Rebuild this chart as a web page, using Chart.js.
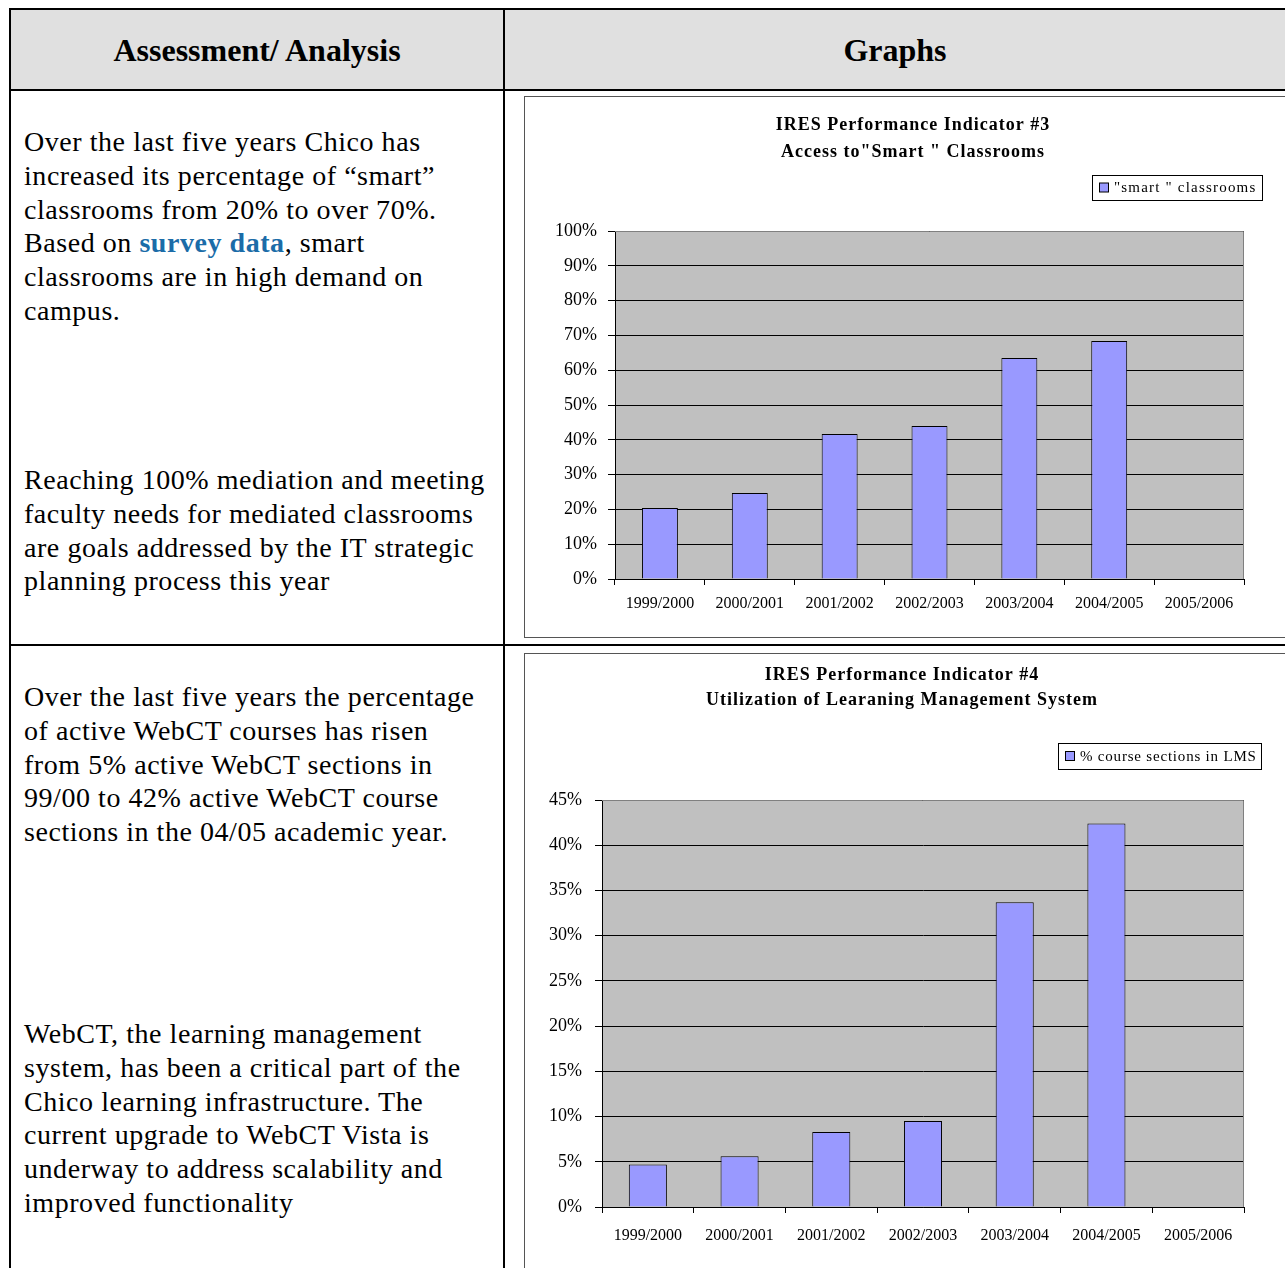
<!DOCTYPE html>
<html>
<head>
<meta charset="utf-8">
<script src="https://cdn.jsdelivr.net/npm/chart.js@4"></script>
<style>
  html, body { margin: 0; padding: 0; background: #fff; }
  body { width: 1285px; height: 1268px; overflow: hidden; position: relative;
         font-family: "Liberation Serif", "Times New Roman", serif; color: #000; }
  .line { position: absolute; background: #000; }
  .head { position: absolute; top: 10px; height: 79px; line-height: 81px; text-align: center;
          font-weight: bold; font-size: 32px; background: #e0e0e0; }
  .txt { position: absolute; left: 24px; font-size: 28px; line-height: 33.8px; letter-spacing: 0.55px; white-space: nowrap; }
  .txt b { color: #1b6ca8; }
  .box { position: absolute; left: 524px; width: 800px; border: 1px solid #555; box-sizing: border-box; }
  .chartWrap { position: absolute; left: 525px; width: 760px; }
</style>
</head>
<body>
<div class="head" style="left:11px;width:492px;">Assessment/ Analysis</div>
<div class="head" style="left:505px;width:780px;">Graphs</div>

<div class="line" style="left:9px;top:8px;width:1276px;height:2px;"></div>
<div class="line" style="left:9px;top:8px;width:2px;height:1260px;"></div>
<div class="line" style="left:503px;top:8px;width:2px;height:1260px;"></div>
<div class="line" style="left:9px;top:89px;width:1276px;height:2px;"></div>
<div class="line" style="left:9px;top:644px;width:1276px;height:2px;"></div>

<div class="txt" style="top:125px;">Over the last five years Chico has<br>increased its percentage of “smart”<br>classrooms from 20% to over 70%.<br>Based on <b>survey data</b>, smart<br>classrooms are in high demand on<br>campus.</div>
<div class="txt" style="top:463px;">Reaching 100% mediation and meeting<br>faculty needs for mediated classrooms<br>are goals addressed by the IT strategic<br>planning process this year</div>
<div class="txt" style="top:680px;">Over the last five years the percentage<br>of active WebCT courses has risen<br>from 5% active WebCT sections in<br>99/00 to 42% active WebCT course<br>sections in the 04/05 academic year.</div>
<div class="txt" style="top:1017px;">WebCT, the learning management<br>system, has been a critical part of the<br>Chico learning infrastructure. The<br>current upgrade to WebCT Vista is<br>underway to address scalability and<br>improved functionality</div>

<div class="box" style="top:96px;height:542px;"></div>
<div class="chartWrap" style="top:97px;height:540px;"><canvas id="chartSmart"></canvas></div>

<div class="box" style="top:653px;height:700px;"></div>
<div class="chartWrap" style="top:654px;height:614px;"><canvas id="chartLms"></canvas></div>

<script>
// dados
const years = ["1999/2000", "2000/2001", "2001/2002", "2002/2003", "2003/2004", "2004/2005", "2005/2006"];
const smartPct = [20.4, 24.7, 41.7, 44.0, 63.5, 68.4, null];
const lmsPct = [4.7, 5.6, 8.3, 9.5, 33.7, 42.4, null];
const smartTitle = ["IRES Performance Indicator #3", "Access to\"Smart \" Classrooms"];
const lmsTitle = ["IRES Performance Indicator #4", "Utilization of Learaning Management System"];
const smartLabel = "\"smart \" classrooms";
const lmsLabel = "% course sections in LMS";

const serif = "'Liberation Serif', 'Times New Roman', serif";

// fundo cinza, título e legenda no estilo do Excel
const excelLook = {
    id: "excelLook",
    beforeDraw(chart) {
        const { ctx, chartArea: a } = chart;
        ctx.save();
        ctx.fillStyle = "#c0c0c0";
        ctx.fillRect(a.left, a.top, a.width, a.height);
        ctx.restore();
    },
    afterDraw(chart, args, opts) {
        const { ctx, chartArea: a } = chart;
        ctx.save();
        // borda do plot area
        ctx.strokeStyle = "#808080";
        ctx.lineWidth = 1;
        ctx.beginPath();
        ctx.moveTo(a.left, a.top + 0.5);
        ctx.lineTo(a.right - 0.5, a.top + 0.5);
        ctx.lineTo(a.right - 0.5, a.bottom);
        ctx.stroke();

        // título
        ctx.fillStyle = "#000";
        ctx.font = "bold 18px " + serif;
        ctx.letterSpacing = "1px";
        ctx.textAlign = "center";
        ctx.textBaseline = "middle";
        opts.title.forEach((t, i) => ctx.fillText(t, opts.titleX, opts.titleY + i * opts.titleGap));

        // legenda
        const lg = opts.legend;
        ctx.letterSpacing = "0px";
        ctx.fillStyle = "#fff";
        ctx.fillRect(lg.x, lg.y, lg.w, lg.h);
        ctx.strokeStyle = "#000";
        ctx.strokeRect(lg.x + 0.5, lg.y + 0.5, lg.w, lg.h);
        const ds = chart.data.datasets[0];
        const my = lg.y + lg.h / 2;
        ctx.fillStyle = ds.backgroundColor;
        ctx.fillRect(lg.x + 7.5, my - 4.5, 9, 9);
        ctx.strokeRect(lg.x + 7.5, my - 4.5, 9, 9);
        ctx.fillStyle = "#000";
        ctx.font = "15px " + serif;
        ctx.letterSpacing = lg.spacing;
        ctx.textAlign = "left";
        ctx.fillText(ds.label, lg.x + 22, my + 1);
        ctx.restore();
    },
};

function newChart(id, values, label, max, step, cfg) {
    new Chart(document.getElementById(id), {
        type: "bar",
        data: {
            labels: years,
            datasets: [{
                label: label,
                data: values,
                backgroundColor: "#9999ff",
                borderColor: "#000",
                borderWidth: 1,
                categoryPercentage: 1,
                barPercentage: cfg.barPct,
            }],
        },
        options: {
            responsive: true,
            maintainAspectRatio: false,
            animation: false,
            layout: { padding: cfg.padding },
            plugins: {
                legend: { display: false },
                title: { display: false },
                tooltip: { enabled: false },
                excelLook: cfg.look,
            },
            scales: {
                x: {
                    offset: true,
                    grid: { offset: true, drawOnChartArea: false, color: "#000", tickLength: 6 },
                    border: { color: "#000", width: 1 },
                    ticks: { color: "#000", padding: cfg.xPad, font: { family: serif, size: 16 }, maxRotation: 0 },
                    afterFit(scale) { scale.height = 40; },
                },
                y: {
                    min: 0,
                    max: max,
                    grid: { color: "#000", tickLength: 7 },
                    border: { color: "#000", width: 1 },
                    ticks: {
                        stepSize: step,
                        color: "#000",
                        padding: cfg.yPad,
                        font: { family: serif, size: 18 },
                        callback: (v) => v + "%",
                    },
                    afterFit(scale) { scale.width = 70; },
                },
            },
        },
        plugins: [excelLook],
    });
}

newChart("chartSmart", smartPct, smartLabel, 100, 10, {
    barPct: 0.4,
    padding: { left: 20, right: 41, top: 134, bottom: 18 },
    xPad: 9,
    yPad: 11,
    look: {
        title: smartTitle, titleX: 388, titleY: 28, titleGap: 27,
        legend: { x: 567, y: 78, w: 170, h: 25, spacing: "1.2px" },
    },
});

newChart("chartLms", lmsPct, lmsLabel, 45, 5, {
    barPct: 0.415,
    padding: { left: 7, right: 41, top: 146, bottom: 21 },
    xPad: 13,
    yPad: 13,
    look: {
        title: lmsTitle, titleX: 377, titleY: 21, titleGap: 25,
        legend: { x: 533, y: 89, w: 203, h: 26, spacing: "0.8px" },
    },
});
</script>
</body>
</html>
